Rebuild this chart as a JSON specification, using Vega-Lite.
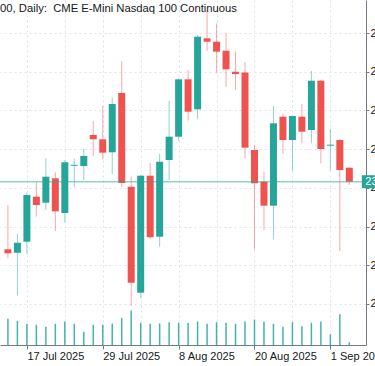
{
  "$schema": "https://vega.github.io/schema/vega-lite/v6.json",
  "width": 366,
  "height": 345,
  "autosize": {"type": "none"},
  "padding": {"left": 0, "top": 0, "right": 9, "bottom": 21},
  "background": "#ffffff",
  "title": {"text": "00, Daily:\u00a0 CME E-Mini Nasdaq 100 Continuous", "anchor": "start", "frame": "group", "offset": 0, "dy": 14, "fontSize": 11.25, "fontWeight": "normal", "font": "Liberation Sans", "color": "#131722"},
  "config": {
    "view": {"stroke": null},
    "font": "Liberation Sans",
    "axis": {"labelFont": "Liberation Sans", "labelFontSize": 11, "labelColor": "#131722", "domainColor": "#787b86", "tickColor": "#787b86", "gridColor": "#e0e3eb", "gridDash": [2, 3], "title": null}
  },
  "datasets": {
    "candles": [
      {"date": "2025-07-15", "i": 0, "open": 22682.5, "high": 22911.25, "low": 22636, "close": 22661.75, "volume": 524000},
      {"date": "2025-07-16", "i": 1, "open": 22665, "high": 22761.5, "low": 22442.75, "close": 22716.5, "volume": 484000},
      {"date": "2025-07-17", "i": 2, "open": 22721.75, "high": 22975, "low": 22658.25, "close": 22963, "volume": 424000},
      {"date": "2025-07-18", "i": 3, "open": 22954.25, "high": 23028.5, "low": 22851, "close": 22911.25, "volume": 404000},
      {"date": "2025-07-21", "i": 4, "open": 22923.25, "high": 23152.5, "low": 22885.5, "close": 23057.5, "volume": 364000},
      {"date": "2025-07-22", "i": 5, "open": 23049.25, "high": 23080.25, "low": 22777, "close": 22878.75, "volume": 424000},
      {"date": "2025-07-23", "i": 6, "open": 22870, "high": 23143.75, "low": 22820, "close": 23132, "volume": 470000},
      {"date": "2025-07-24", "i": 7, "open": 23114, "high": 23151.5, "low": 23002.75, "close": 23119, "volume": 424000},
      {"date": "2025-07-25", "i": 8, "open": 23112.75, "high": 23200.75, "low": 23040.5, "close": 23164.5, "volume": 264000},
      {"date": "2025-07-28", "i": 9, "open": 23273, "high": 23345.25, "low": 23164.5, "close": 23250.75, "volume": 404000},
      {"date": "2025-07-29", "i": 10, "open": 23250.75, "high": 23424.5, "low": 23147.5, "close": 23181.5, "volume": 404000},
      {"date": "2025-07-30", "i": 11, "open": 23183.5, "high": 23465.75, "low": 23071.5, "close": 23433.25, "volume": 430000},
      {"date": "2025-07-31", "i": 12, "open": 23490, "high": 23655.25, "low": 23004.25, "close": 23025, "volume": 544000},
      {"date": "2025-08-01", "i": 13, "open": 23006, "high": 23057.5, "low": 22389.5, "close": 22510, "volume": 690000},
      {"date": "2025-08-04", "i": 14, "open": 22458.25, "high": 23066.25, "low": 22427.25, "close": 23062.75, "volume": 444000},
      {"date": "2025-08-05", "i": 15, "open": 23062.75, "high": 23130, "low": 22735.75, "close": 22744.5, "volume": 424000},
      {"date": "2025-08-06", "i": 16, "open": 22747.5, "high": 23174.75, "low": 22696, "close": 23135, "volume": 430000},
      {"date": "2025-08-07", "i": 17, "open": 23143.75, "high": 23448.75, "low": 23040.5, "close": 23264.25, "volume": 456000},
      {"date": "2025-08-08", "i": 18, "open": 23264.25, "high": 23565, "low": 23243.5, "close": 23560.75, "volume": 444000},
      {"date": "2025-08-11", "i": 19, "open": 23560.75, "high": 23608.75, "low": 23347, "close": 23393.5, "volume": 440000},
      {"date": "2025-08-12", "i": 20, "open": 23405.75, "high": 23789.75, "low": 23355.75, "close": 23781, "volume": 470000},
      {"date": "2025-08-13", "i": 21, "open": 23772.5, "high": 23918.75, "low": 23707, "close": 23755, "volume": 424000},
      {"date": "2025-08-14", "i": 22, "open": 23755, "high": 23850, "low": 23595, "close": 23703.5, "volume": 456000},
      {"date": "2025-08-15", "i": 23, "open": 23708.5, "high": 23798.5, "low": 23522.5, "close": 23612.5, "volume": 444000},
      {"date": "2025-08-18", "i": 24, "open": 23600, "high": 23703.5, "low": 23505.5, "close": 23588.25, "volume": 424000},
      {"date": "2025-08-19", "i": 25, "open": 23596, "high": 23650.25, "low": 23152.5, "close": 23207.5, "volume": 470000},
      {"date": "2025-08-20", "i": 26, "open": 23195.5, "high": 23221.25, "low": 22682.5, "close": 23023.5, "volume": 510000},
      {"date": "2025-08-21", "i": 27, "open": 23031.75, "high": 23083.5, "low": 22782.25, "close": 22907.75, "volume": 470000},
      {"date": "2025-08-22", "i": 28, "open": 22907.75, "high": 23422.75, "low": 22734, "close": 23333.5, "volume": 424000},
      {"date": "2025-08-25", "i": 29, "open": 23367.5, "high": 23385, "low": 23174.75, "close": 23247.25, "volume": 364000},
      {"date": "2025-08-26", "i": 30, "open": 23247.25, "high": 23373.75, "low": 23087, "close": 23371.25, "volume": 456000},
      {"date": "2025-08-27", "i": 31, "open": 23367.5, "high": 23433.25, "low": 23230, "close": 23290, "volume": 376000},
      {"date": "2025-08-28", "i": 32, "open": 23298.75, "high": 23603.75, "low": 23230, "close": 23553.5, "volume": 444000},
      {"date": "2025-08-29", "i": 33, "open": 23553.5, "high": 23557.25, "low": 23126.75, "close": 23200.75, "volume": 470000},
      {"date": "2025-09-01", "i": 34, "open": 23217.75, "high": 23304, "low": 23088.5, "close": 23223, "volume": 216000},
      {"date": "2025-09-02", "i": 35, "open": 23247.25, "high": 23252.25, "low": 22673.75, "close": 23092.25, "volume": 616000},
      {"date": "2025-09-03", "i": 36, "open": 23104, "high": 23107.75, "low": 23014.75, "close": 23031.75, "volume": 56000}
    ],
    "last": [{"date": "2025-09-03", "close": 23031.75}]
  },
  "layer": [
    {
      "layer": [
        {
          "data": {"name": "candles"},
          "mark": {"type": "rule", "strokeWidth": 1, "opacity": 0.5},
          "encoding": {
            "x": {"field": "i", "type": "quantitative", "scale": {"domain": [-0.3077, 37.231], "nice": false, "zero": false},
                  "axis": {"values": [2, 6, 10, 14, 18, 22, 26, 30, 34], "grid": true, "tickSize": 4, "labelPadding": 1, "labelAlign": "left", "labelFlush": false, "labelOverlap": false, "labelBound": false,
                           "tickColor": {"condition": {"test": "(datum.value - 2) % 8 == 0", "value": "#787b86"}, "value": "rgba(0,0,0,0)"},
                           "labelExpr": "datum.value == 2 ? '17 Jul 2025' : datum.value == 10 ? '29 Jul 2025' : datum.value == 18 ? '8 Aug 2025' : datum.value == 26 ? '20 Aug 2025' : datum.value == 34 ? '1 Sep 2025' : ''"}},
            "y": {"field": "high", "type": "quantitative", "title": null, "scale": {"domain": [22188, 23970.5], "nice": false, "zero": false},
                  "axis": {"orient": "right", "values": [22400, 22600, 22800, 23000, 23200, 23400, 23600, 23800], "format": ",.2f", "grid": true, "tickSize": 3, "labelPadding": 1, "labelBaseline": "middle"}},
            "y2": {"field": "low"},
            "color": {"condition": {"test": "datum.close >= datum.open", "value": "#26a69a"}, "value": "#ef5350"}
          }
        },
        {
          "data": {"name": "candles"},
          "mark": {"type": "bar", "size": 7},
          "encoding": {
            "x": {"field": "i", "type": "quantitative"},
            "y": {"field": "open", "type": "quantitative", "title": null},
            "y2": {"field": "close"},
            "color": {"condition": {"test": "datum.close >= datum.open", "value": "#26a69a"}, "value": "#ef5350"}
          }
        },
        {
          "data": {"name": "last"},
          "mark": {"type": "rule", "color": "#26a69a", "opacity": 0.5, "strokeWidth": 1.5},
          "encoding": {"y": {"field": "close", "type": "quantitative", "title": null}}
        },
        {
          "data": {"name": "last"},
          "mark": {"type": "point", "shape": "square", "filled": true, "size": 169, "color": "#26a69a", "opacity": 1, "strokeWidth": 0},
          "encoding": {"x": {"datum": 38.0, "type": "quantitative"}, "y": {"field": "close", "type": "quantitative", "title": null}}
        },
        {
          "data": {"name": "last"},
          "mark": {"type": "text", "align": "left", "baseline": "middle", "color": "#ffffff", "fontSize": 11, "font": "Liberation Sans"},
          "encoding": {"x": {"datum": 37.68, "type": "quantitative"}, "y": {"field": "close", "type": "quantitative", "title": null}, "text": {"field": "close", "format": ",.2f"}}
        }
      ]
    },
    {
      "data": {"name": "candles"},
      "mark": {"type": "bar", "size": 1.5, "color": "#26a69a", "opacity": 0.85},
      "encoding": {
        "x": {"field": "i", "type": "quantitative"},
        "y": {"field": "volume", "type": "quantitative", "title": null, "scale": {"domain": [0, 6900000], "nice": false}, "axis": null}
      }
    }
  ],
  "resolve": {"scale": {"y": "independent"}, "axis": {"y": "independent"}}
}
